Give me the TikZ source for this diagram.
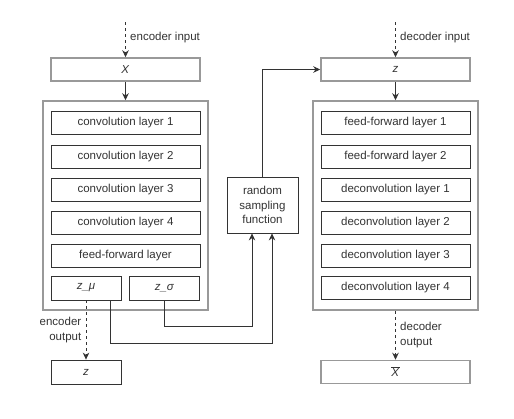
\documentclass[tikz,border=0pt]{standalone}
\usepackage{fontspec}
\setmainfont{Liberation Sans}
\usepackage{tikz}
\usetikzlibrary{arrows.meta,positioning,calc}
\definecolor{linedark}{HTML}{333333}
\definecolor{linegray}{HTML}{999999}

\begin{document}
\begin{tikzpicture}[x=1pt,y=-1pt,
    font=\fontsize{11.5}{14.5}\selectfont, text=linedark,
    layer/.style={draw=linedark,line width=0.8pt,minimum width=149pt,minimum height=23pt,inner sep=0pt},
    half/.style={draw=linedark,line width=0.8pt,minimum width=70pt,minimum height=24pt,inner sep=0pt},
    frame/.style={draw=linegray,line width=1.5pt,minimum width=165pt,minimum height=209pt,inner sep=0pt},
    iobox/.style={draw=linegray,line width=1.5pt,minimum width=149pt,minimum height=23pt,inner sep=0pt},
    conn/.style={draw=linedark,line width=0.8pt,-{Stealth[length=7pt,width=6.5pt]}},
    dconn/.style={conn,dashed}]
  \useasboundingbox (0,0) rectangle (514,418);
  % Encoder
  \node[frame] (enc) at (125.5,205.5) {};
  \node[iobox] (encx) at (125.5,69.5) {\textit{X}};
  \node[layer] (conv1) at (125.5,123) {convolution layer 1};
  \node[layer] (conv2) at (125.5,156.5) {convolution layer 2};
  \node[layer] (conv3) at (125.5,189.5) {convolution layer 3};
  \node[layer] (conv4) at (125.5,222.5) {convolution layer 4};
  \node[layer] (encff) at (125.5,255.5) {feed-forward layer};
  \node[half] (zmu) at (86,288) {\textit{z\_μ}};
  \node[half] (zsig) at (164.5,288) {\textit{z\_σ}};
  \node[half] (zout) at (86,372) {\textit{z}};
  % Sampling
  \node[draw=linedark,line width=0.8pt,minimum width=71pt,minimum height=56pt,
        align=center,inner sep=0pt] (rand) at (262.5,205) {random\\sampling\\function};
  % Decoder
  \node[frame] (dec) at (395.5,205.5) {};
  \node[iobox] (decz) at (395.5,69.5) {\textit{z}};
  \node[layer] (dff1) at (395.5,123) {feed-forward layer 1};
  \node[layer] (dff2) at (395.5,156.5) {feed-forward layer 2};
  \node[layer] (dconv1) at (395.5,189.5) {deconvolution layer 1};
  \node[layer] (dconv2) at (395.5,222.5) {deconvolution layer 2};
  \node[layer] (dconv3) at (395.5,255.5) {deconvolution layer 3};
  \node[layer] (dconv4) at (395.5,288) {deconvolution layer 4};
  \node[iobox] (xbar) at (395.5,372) {$\overline{\mbox{\textit{X}}}$};

  % Connectors
  \coordinate (encin) at (125.5,22);
  \coordinate (decin) at (395.5,22);
  \coordinate (kmu) at (272,343);
  \coordinate (ksig) at (252,326);
  \draw[dconn] (encin) -- (encx.north)
    node[pos=0.45,right=1pt] (encinlbl) {encoder input};
  \draw[conn] (encx.south) -- (enc.north);
  \draw[dconn] (zmu.south) -- (zout.north)
    node[midway,left=1pt,align=right] (encoutlbl) {encoder\\output};
  \draw[conn] ([xshift=24pt]zmu.south) |- (kmu) -- (kmu |- rand.south);
  \draw[conn] (zsig.south) |- (ksig) -- (ksig |- rand.south);
  \draw[conn] (rand.north) |- (decz.west);
  \draw[dconn] (decin) -- (decz.north)
    node[pos=0.45,right=1pt] (decinlbl) {decoder input};
  \draw[conn] (decz.south) -- (dec.north);
  \draw[dconn] (dec.south) -- (xbar.north)
    node[midway,right=1pt,align=left] (decoutlbl) {decoder\\output};
\end{tikzpicture}
\end{document}
